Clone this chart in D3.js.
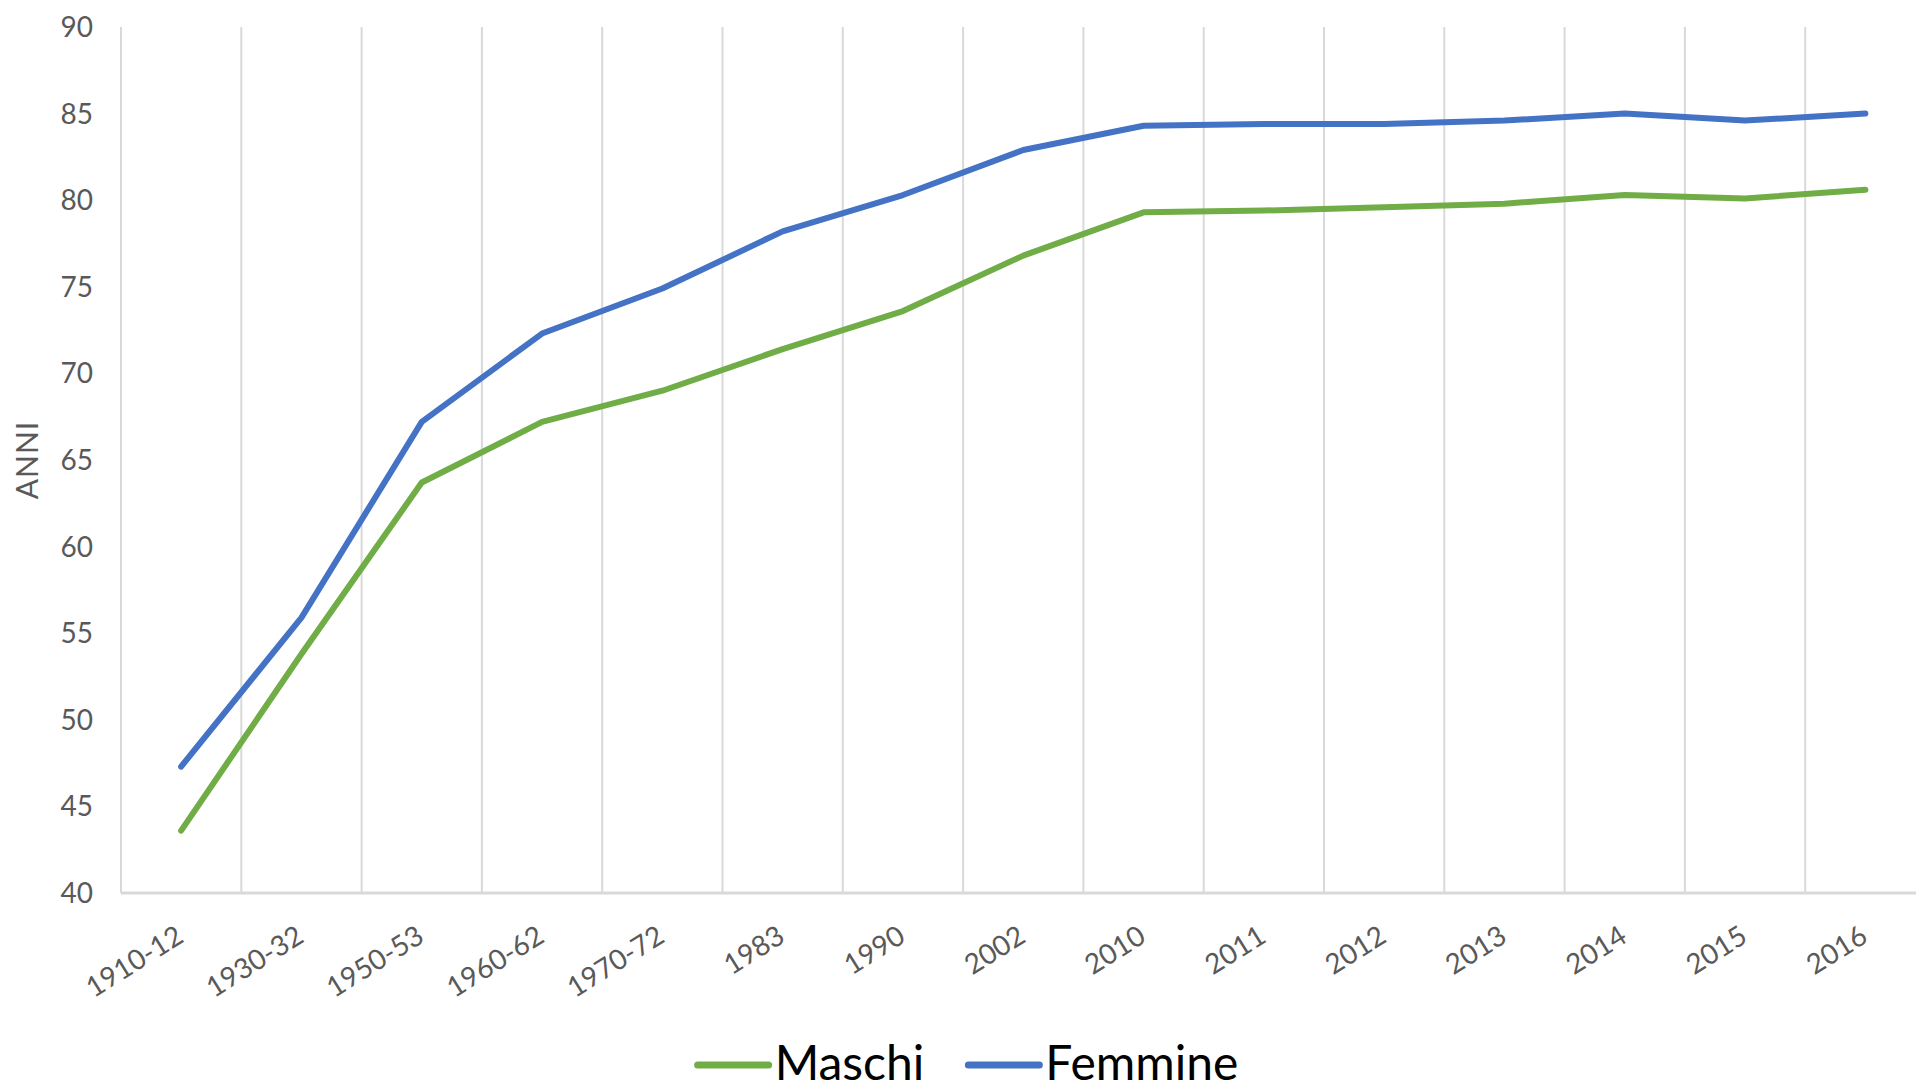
<!DOCTYPE html>
<html>
<head>
<meta charset="utf-8">
<script src="https://cdn.jsdelivr.net/npm/d3@7"></script>
<style>
  html, body { margin: 0; padding: 0; background: #fff; overflow: hidden; }
  svg { display: block; font-family: Lato, 'Open Sans', sans-serif; }
</style>
</head>
<body>
<div id="chart"></div>
<script>
const periods = ['1910-12', '1930-32', '1950-53', '1960-62', '1970-72', '1983', '1990', '2002',
  '2010', '2011', '2012', '2013', '2014', '2015', '2016'];
const maschi = [43.6, 53.8, 63.7, 67.2, 69.0, 71.4, 73.6, 76.8, 79.3, 79.4, 79.6, 79.8, 80.3, 80.1, 80.6];
const femmine = [47.3, 55.9, 67.2, 72.3, 74.9, 78.2, 80.3, 82.9, 84.3, 84.4, 84.4, 84.6, 85.0, 84.6, 85.0];
const yTicks = [40, 45, 50, 55, 60, 65, 70, 75, 80, 85, 90];

const series = [
  { name: 'Maschi', values: maschi, color: '#70ad47' },
  { name: 'Femmine', values: femmine, color: '#4472c4' }
];

const width = 1916;
const height = 1091;
const margin = { top: 27, left: 121, bottom: 893 };
const band = 120.3;

const svg = d3.select('#chart').append('svg')
  .attr('width', width)
  .attr('height', height);

const x = d3.scaleBand()
  .domain(periods)
  .range([margin.left, margin.left + band * periods.length]);

const y = d3.scaleLinear()
  .domain([40, 90])
  .range([margin.bottom, margin.top]);

// vertical gridlines at category boundaries
const bounds = periods.map(p => x(p));
svg.append('g')
  .selectAll('line')
  .data(bounds)
  .join('line')
    .attr('x1', d => d)
    .attr('x2', d => d)
    .attr('y1', margin.top)
    .attr('y2', margin.bottom)
    .attr('stroke', '#d9d9d9')
    .attr('stroke-width', 2);

// category axis
svg.append('line')
  .attr('x1', margin.left)
  .attr('x2', width)
  .attr('y1', margin.bottom)
  .attr('y2', margin.bottom)
  .attr('stroke', '#d9d9d9')
  .attr('stroke-width', 3);

// y tick labels
svg.append('g')
  .attr('font-size', 28)
  .attr('fill', '#595959')
  .attr('text-anchor', 'end')
  .selectAll('text')
  .data(yTicks)
  .join('text')
    .attr('x', 93)
    .attr('y', d => y(d))
    .attr('dy', '0.36em')
    .text(d => d);

// x tick labels
svg.append('g')
  .attr('font-size', 28)
  .attr('fill', '#595959')
  .attr('text-anchor', 'end')
  .selectAll('text')
  .data(periods)
  .join('text')
    .attr('transform', d => `translate(${x(d) + x.bandwidth() / 2 + 4},${margin.bottom + 48}) rotate(-32)`)
    .text(d => d);

// axis title
svg.append('text')
  .attr('transform', `translate(27,${(margin.top + margin.bottom) / 2}) rotate(-90)`)
  .attr('text-anchor', 'middle')
  .attr('dy', '0.36em')
  .attr('font-size', 30)
  .attr('letter-spacing', 1)
  .attr('fill', '#595959')
  .text('ANNI');

// lines
const line = d3.line()
  .x((d, i) => x(periods[i]) + x.bandwidth() / 2)
  .y(d => y(d));

svg.append('g')
  .selectAll('path')
  .data(series)
  .join('path')
    .attr('d', d => line(d.values))
    .attr('fill', 'none')
    .attr('stroke', d => d.color)
    .attr('stroke-width', 6)
    .attr('stroke-linejoin', 'round')
    .attr('stroke-linecap', 'round');

// legend
const legend = svg.append('g');
const swatch = 71;
const legendY = 1065;
let cursor = 0;
series.forEach((s, i) => {
  const item = legend.append('g').attr('transform', `translate(${cursor},0)`);
  item.append('line')
    .attr('x1', 0).attr('x2', swatch)
    .attr('y1', legendY).attr('y2', legendY)
    .attr('stroke', s.color)
    .attr('stroke-width', 7)
    .attr('stroke-linecap', 'round');
  const t = item.append('text')
    .attr('x', swatch + 6)
    .attr('y', 1080)
    .attr('font-size', 48)
    .attr('fill', '#000')
    .text(s.name);
  cursor += swatch + 6 + t.node().getComputedTextLength() + 44;
});
const legendW = cursor - 44;
legend.attr('transform', `translate(${968 - legendW / 2},0)`);
</script>
</body>
</html>
